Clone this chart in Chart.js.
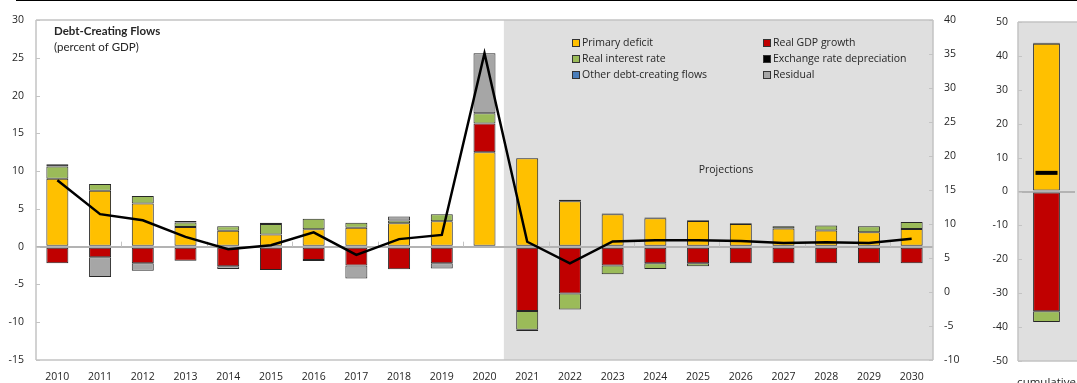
<!DOCTYPE html>
<html>
<head>
<meta charset="utf-8">
<script src="https://cdn.jsdelivr.net/npm/chart.js@4/dist/chart.umd.min.js"></script>
<style>
  html, body { margin: 0; padding: 0; background: #fff; overflow: hidden; width: 1077px; height: 383px; }
  #rule { position: absolute; left: 16px; right: 0; top: 0; height: 1px; background: #000; }
  #main { position: absolute; left: 0; top: 0; }
  #cum { position: absolute; left: 975px; top: 0; }
</style>
</head>
<body>
<div id="rule"></div>
<canvas id="main" width="975" height="383"></canvas>
<canvas id="cum" width="115" height="383"></canvas>
<script>
// Years on the category axis; projections start in 2021
const years = ['2010','2011','2012','2013','2014','2015','2016','2017','2018','2019','2020',
               '2021','2022','2023','2024','2025','2026','2027','2028','2029','2030'];
const projectionStartYear = '2021';

// Debt-creating flows, percent of GDP
const primaryDeficit           = [9.0, 7.4, 5.7, 2.6, 2.1, 1.6, 2.3, 2.5, 3.1, 3.35, 12.5, 11.7, 6.0, 4.3, 3.75, 3.4, 3.0, 2.4, 2.15, 1.9, 2.35];
const realGdpGrowth            = [-2.2, -1.4, -2.2, -1.85, -2.6, -3.1, -1.75, -2.5, -3.0, -2.2, 3.8, -8.5, -6.2, -2.5, -2.2, -2.2, -2.2, -2.2, -2.2, -2.2, -2.2];
const realInterestRate         = [1.6, 0.9, 1.0, 0.6, 0.6, 1.4, 1.4, 0.65, 0.35, 0.95, 1.35, -2.5, -2.1, -1.15, -0.75, -0.4, 0, 0.3, 0.65, 0.8, 0.9];
const exchangeRateDepreciation = [0.3, 0, 0, 0.2, 0, 0.15, 0, 0, 0, 0, 0, -0.15, 0.2, 0.1, 0.1, 0.1, 0.1, 0, 0, 0, 0];
const otherFlows               = [0, 0, 0, 0, 0, 0, 0, 0, 0, 0, 0, 0, 0, 0, 0, 0, 0, 0, 0, 0, 0];
const residual                 = [0, -2.6, -1.0, 0, -0.35, 0, -0.15, -1.7, 0.55, -0.7, 7.95, 0, 0, 0, 0, 0, 0, 0, 0, 0, 0];
const changeInDebt             = [8.8, 4.3, 3.5, 1.3, -0.35, 0.2, 1.9, -1.1, 1.0, 1.55, 25.6, 0.65, -2.2, 0.7, 0.85, 0.85, 0.75, 0.5, 0.6, 0.5, 1.05];

// Cumulative projection-period totals
const cumulativeLabel      = ['cumulative'];
const cumPrimaryDeficit    = [43.6];
const cumRealGdpGrowth     = [-35.3];
const cumRealInterestRate  = [-3.2];
const cumExchangeRate      = [0.3];
const cumOtherFlows        = [0];
const cumResidual          = [0];
const cumChangeInDebt      = [5.5];

// Axis tick ranges
const leftTicks  = { min: -15, max: 30, step: 5 };
const rightTicks = { min: -10, max: 40, step: 5 };
const cumTicks   = { min: -50, max: 50, step: 10 };

const seriesNames = ['Primary deficit', 'Real GDP growth', 'Real interest rate',
                     'Exchange rate depreciation', 'Other debt-creating flows', 'Residual'];
const seriesColors = ['#FFC000', '#C00000', '#9BBB59', '#000000', '#4A7EBB', '#A6A6A6'];

const FONT = "'Open Sans', 'Noto Sans', sans-serif";
const TEXT = '#262626';
const FRAME = '#c4c4c4';
const SHADE = '#dfdfdf';

Chart.defaults.font.family = FONT;
Chart.defaults.font.size = 10.5;
Chart.defaults.color = TEXT;

function barSet(i, data, pct) {
  return {
    type: 'bar', label: seriesNames[i], data: data,
    backgroundColor: seriesColors[i], borderColor: '#262626', borderWidth: 1,
    borderSkipped: false, barPercentage: pct, categoryPercentage: 1,
    order: 1, yAxisID: 'y'
  };
}

function zeroGrid() {
  return {
    drawTicks: false,
    color: c => (c.tick && c.tick.value === 0) ? '#b3b3b3' : 'rgba(0,0,0,0)',
    lineWidth: c => (c.tick && c.tick.value === 0) ? 2 : 0
  };
}

// Shaded region, plot frame and small inward tick marks
const framePlugin = {
  id: 'frame',
  beforeDraw(chart, args, opts) {
    const { ctx, chartArea: a } = chart;
    let x0 = a.left;
    if (opts.shadeFrom != null) {
      const xs = chart.scales.x;
      x0 = (xs.getPixelForValue(opts.shadeFrom - 1) + xs.getPixelForValue(opts.shadeFrom)) / 2 - 2;
    }
    const x1 = opts.openRight ? chart.width : a.right;
    ctx.save();
    ctx.fillStyle = SHADE;
    ctx.fillRect(x0, a.top, x1 - x0, a.bottom - a.top);
    ctx.restore();
  },
  beforeDatasetsDraw(chart, args, opts) {
    const { ctx, chartArea: a } = chart;
    const x1 = opts.openRight ? chart.width : a.right;
    ctx.save();
    ctx.strokeStyle = FRAME;
    ctx.lineWidth = 1.5;
    ctx.beginPath();
    ctx.moveTo(a.left, a.top); ctx.lineTo(a.left, a.bottom);
    ctx.moveTo(a.left, a.top); ctx.lineTo(x1, a.top);
    ctx.moveTo(a.left, a.bottom); ctx.lineTo(x1, a.bottom);
    if (!opts.openRight) { ctx.moveTo(a.right, a.top); ctx.lineTo(a.right, a.bottom); }
    ctx.stroke();

    // inward ticks on the value axes
    ctx.lineWidth = 1;
    ctx.beginPath();
    ['y', 'y2'].forEach(id => {
      const s = chart.scales[id];
      if (!s) return;
      s.ticks.forEach(t => {
        const py = Math.round(s.getPixelForValue(t.value)) + 0.5;
        if (s.position === 'left') { ctx.moveTo(a.left, py); ctx.lineTo(a.left + 4, py); }
        else { ctx.moveTo(a.right - 4, py); ctx.lineTo(a.right, py); }
      });
    });
    // category tick marks on the zero line, every second boundary
    if (opts.categoryTicks) {
      const xs = chart.scales.x, ys = chart.scales.y;
      const y0 = ys.getPixelForValue(0);
      for (let i = 1; i + 1 < xs.ticks.length; i += 2) {
        const px = Math.round((xs.getPixelForValue(i) + xs.getPixelForValue(i + 1)) / 2) + 0.5;
        ctx.moveTo(px, y0 - 5); ctx.lineTo(px, y0);
      }
    }
    ctx.stroke();
    ctx.restore();
  }
};

// Title, legend and projection note
const annotationPlugin = {
  id: 'notes',
  afterDraw(chart) {
    const ctx = chart.ctx;
    ctx.save();
    ctx.fillStyle = TEXT;
    ctx.textBaseline = 'middle';
    ctx.textAlign = 'left';
    ctx.font = "bold 11.5px Lato, " + FONT;
    ctx.fillText('Debt-Creating Flows', 54, 31);
    ctx.font = "11.5px Lato, " + FONT;
    ctx.fillText('(percent of GDP)', 54, 47);

    ctx.font = "10.5px " + FONT;
    const cols = [572, 763];
    const rows = [43, 59, 75];
    const layout = [[0, 0], [1, 0], [0, 1], [1, 1], [0, 2], [1, 2]];
    seriesNames.forEach((name, k) => {
      const [c, r] = layout[k];
      const x = cols[c], y = rows[r];
      ctx.fillStyle = seriesColors[k];
      ctx.fillRect(x, y - 4, 7, 7);
      ctx.strokeStyle = '#333';
      ctx.lineWidth = 1;
      ctx.strokeRect(x + 0.5, y - 3.5, 7, 7);
      ctx.fillStyle = TEXT;
      ctx.fillText(name, x + 10, y);
    });

    ctx.textAlign = 'center';
    ctx.fillText('Projections', 726, 170);
    ctx.restore();
  }
};

new Chart(document.getElementById('main'), {
  data: {
    labels: years,
    datasets: [
      barSet(0, primaryDeficit, 0.515),
      barSet(1, realGdpGrowth, 0.515),
      barSet(2, realInterestRate, 0.515),
      barSet(3, exchangeRateDepreciation, 0.515),
      barSet(4, otherFlows, 0.515),
      barSet(5, residual, 0.515),
      {
        type: 'line', label: 'Change in public debt', data: changeInDebt,
        borderColor: '#000', borderWidth: 2.5, pointRadius: 0, tension: 0,
        stack: 'debtLine', order: 0, yAxisID: 'y'
      }
    ]
  },
  options: {
    responsive: false, animation: false,
    layout: { padding: { top: 20, left: 0, right: 0, bottom: 0 } },
    plugins: {
      legend: { display: false }, tooltip: { enabled: false },
      frame: { shadeFrom: years.indexOf(projectionStartYear), categoryTicks: true },
    },
    scales: {
      x: {
        stacked: true, grid: { display: false, drawTicks: false }, border: { display: false },
        ticks: { padding: 11, maxRotation: 0, autoSkip: false, font: { size: 10.5 } },
        afterFit(s) { s.height = 23; }
      },
      y: {
        stacked: true, position: 'left', min: leftTicks.min, max: leftTicks.max,
        ticks: { stepSize: leftTicks.step, padding: 12 },
        grid: zeroGrid(), border: { display: false },
        afterFit(s) { s.width = 36; }
      },
      y2: {
        position: 'right', min: rightTicks.min, max: rightTicks.max,
        ticks: { stepSize: rightTicks.step, padding: 11 },
        grid: { display: false, drawTicks: false }, border: { display: false },
        afterFit(s) { s.width = 42; }
      }
    }
  },
  plugins: [framePlugin, annotationPlugin]
});

new Chart(document.getElementById('cum'), {
  data: {
    labels: cumulativeLabel,
    datasets: [
      barSet(0, cumPrimaryDeficit, 0.47),
      barSet(1, cumRealGdpGrowth, 0.47),
      barSet(2, cumRealInterestRate, 0.47),
      barSet(3, cumExchangeRate, 0.47),
      barSet(4, cumOtherFlows, 0.47),
      barSet(5, cumResidual, 0.47),
      {
        type: 'line', label: 'Change in public debt', data: cumChangeInDebt,
        showLine: false, pointStyle: 'line', pointRadius: 11, pointBorderWidth: 4,
        pointBorderColor: '#000', pointBackgroundColor: '#000',
        stack: 'debtLine', order: 0, yAxisID: 'y'
      }
    ]
  },
  options: {
    responsive: false, animation: false,
    layout: { padding: { top: 22, left: 0, right: 4, bottom: 0 } },
    plugins: { legend: { display: false }, tooltip: { enabled: false }, frame: { openRight: true } },
    scales: {
      x: {
        stacked: true, grid: { display: false, drawTicks: false }, border: { display: false },
        ticks: { padding: 15, maxRotation: 0, font: { size: 11.5 } },
        afterFit(s) { s.height = 22; s.paddingLeft = 0; s.paddingRight = 0; }
      },
      y: {
        stacked: true, position: 'left', min: cumTicks.min, max: cumTicks.max,
        ticks: { stepSize: cumTicks.step, padding: 10 },
        grid: zeroGrid(), border: { display: false },
        afterFit(s) { s.width = 43; }
      }
    }
  },
  plugins: [framePlugin]
});
</script>
</body>
</html>
